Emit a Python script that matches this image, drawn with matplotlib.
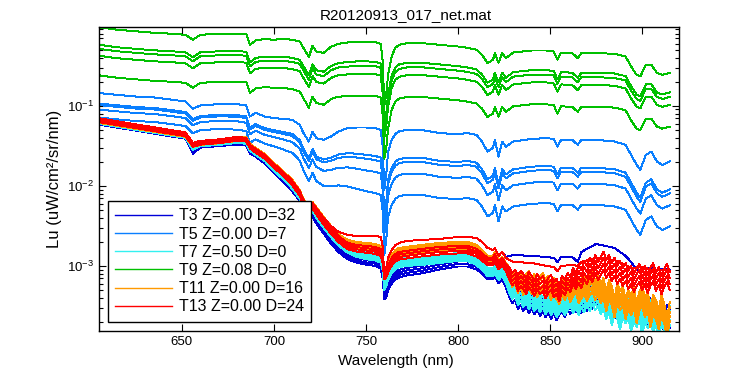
import numpy as np
import matplotlib
matplotlib.use("Agg")
import matplotlib.pyplot as plt
from matplotlib.ticker import LogLocator, LogFormatterSciNotation, NullFormatter

plt.rcParams['font.family'] = ['Liberation Sans', 'DejaVu Sans']

# wavelength grid (nm)
wl = [605, 615, 625, 635, 645, 652, 656, 660, 670, 680,
      685, 687, 690, 695, 700, 705, 710, 714, 716, 719,
      721, 723, 727, 731, 735, 740, 745, 750, 755, 758,
      759, 760, 761, 762, 764, 766, 768, 772, 780, 790,
      800, 805, 810, 813, 816, 819, 820, 822, 824, 826,
      830, 840, 848, 852, 854, 856, 862, 865, 867, 875,
      885, 891, 894, 897, 899, 902, 905, 908, 911, 915]
# finer grid for the noisy near-infrared end of the dim casts
wl_nir = [828, 829.5, 831, 832.5, 834, 835.5, 837, 838.5, 840, 841.5,
          843, 844.5, 846, 847.5, 849, 850.5, 852, 853.5, 855, 856.5,
          858, 859.5, 861, 862.5, 864, 865.5, 867, 868.5, 870, 871.5,
          873, 874.5, 876, 877.5, 879, 880.5, 882, 883.5, 885, 886.5,
          888, 889.5, 891, 892.5, 894, 895.5, 897, 898.5, 900, 901.5,
          903, 904.5, 906, 907.5, 909, 910.5, 912, 913.5, 915]

# log10(Lu) of the top curve of each group
t9_top = [-0.019, -0.050, -0.069, -0.088, -0.100, -0.113, -0.175, -0.113, -0.100, -0.100,
          -0.104, -0.238, -0.184, -0.166, -0.175, -0.163, -0.175, -0.196, -0.275, -0.388,
          -0.250, -0.321, -0.338, -0.263, -0.225, -0.209, -0.200, -0.200, -0.204, -0.225,
          -0.425, -0.988, -0.863, -0.613, -0.375, -0.275, -0.238, -0.219, -0.216, -0.238,
          -0.259, -0.275, -0.300, -0.363, -0.466, -0.425, -0.341, -0.463, -0.341, -0.404,
          -0.334, -0.309, -0.309, -0.321, -0.425, -0.334, -0.341, -0.404, -0.341, -0.341,
          -0.350, -0.384, -0.509, -0.613, -0.634, -0.488, -0.488, -0.588, -0.613, -0.588]
t5_top = [-0.841, -0.863, -0.884, -0.896, -0.925, -0.946, -1.038, -0.996, -0.979, -0.979,
          -0.996, -1.134, -1.088, -1.134, -1.154, -1.163, -1.175, -1.238, -1.338, -1.446,
          -1.321, -1.404, -1.425, -1.384, -1.321, -1.279, -1.271, -1.271, -1.279, -1.300,
          -1.488, -2.050, -1.863, -1.575, -1.425, -1.350, -1.319, -1.300, -1.300, -1.341,
          -1.354, -1.341, -1.363, -1.446, -1.571, -1.525, -1.425, -1.634, -1.446, -1.509,
          -1.446, -1.413, -1.404, -1.413, -1.509, -1.425, -1.425, -1.488, -1.425, -1.425,
          -1.446, -1.488, -1.613, -1.738, -1.800, -1.613, -1.571, -1.696, -1.738, -1.696]
t13_top = [-1.156, -1.194, -1.231, -1.269, -1.306, -1.331, -1.463, -1.438, -1.419, -1.388,
           -1.400, -1.488, -1.538, -1.613, -1.725, -1.825, -1.938, -2.063, -2.175, -2.288,
           -2.213, -2.288, -2.413, -2.525, -2.625, -2.713, -2.738, -2.750, -2.763, -2.788,
           -2.863, -3.075, -3.050, -2.988, -2.900, -2.850, -2.825, -2.813, -2.788, -2.763,
           -2.750, -2.750, -2.788, -2.838, -2.900, -2.900, -2.850, -2.950, -2.900, -2.975]
t13_nir = [-3.025, -3.088, -3.050, -3.125, -3.063, -3.100, -3.163, -3.075, -3.125, -3.188,
           -3.100, -3.163, -3.125, -3.213, -3.150, -3.113, -3.200, -3.163, -3.250, -3.125,
           -3.175, -3.088, -3.138, -3.025, -3.100, -2.988, -3.050, -2.938, -3.000, -2.900,
           -2.975, -2.863, -2.950, -2.888, -2.825, -2.925, -2.863, -2.963, -2.900, -3.000,
           -2.938, -3.025, -2.963, -3.063, -3.000, -3.100, -3.025, -2.975, -3.075, -3.000,
           -3.113, -3.025, -2.963, -3.088, -3.013, -3.125, -3.038, -2.975, -3.075]
t11_top = [-1.163, -1.200, -1.238, -1.275, -1.313, -1.338, -1.463, -1.438, -1.419, -1.388,
           -1.394, -1.475, -1.525, -1.600, -1.713, -1.813, -1.925, -2.050, -2.163, -2.263,
           -2.200, -2.263, -2.388, -2.500, -2.600, -2.675, -2.700, -2.713, -2.725, -2.750,
           -2.825, -3.050, -3.025, -2.950, -2.863, -2.800, -2.775, -2.763, -2.738, -2.713,
           -2.700, -2.700, -2.738, -2.800, -2.875, -2.875, -2.825, -2.925, -2.888, -2.963]
t11_nir = [-3.025, -3.100, -3.063, -3.138, -3.075, -3.163, -3.100, -3.063, -3.150, -3.100,
           -3.188, -3.125, -3.088, -3.175, -3.125, -3.225, -3.150, -3.213, -3.275, -3.163,
           -3.225, -3.150, -3.250, -3.175, -3.125, -3.225, -3.163, -3.100, -3.200, -3.125,
           -3.075, -3.188, -3.113, -3.225, -3.150, -3.325, -3.175, -3.250, -3.400, -3.225,
           -3.313, -3.250, -3.425, -3.300, -3.375, -3.275, -3.475, -3.325, -3.250, -3.400,
           -3.325, -3.525, -3.363, -3.425, -3.550, -3.375, -3.475, -3.650, -3.450]
t7_top = [-1.175, -1.213, -1.250, -1.288, -1.325, -1.350, -1.500, -1.456, -1.438, -1.413,
          -1.425, -1.513, -1.563, -1.638, -1.763, -1.863, -1.975, -2.100, -2.213, -2.325,
          -2.250, -2.325, -2.450, -2.563, -2.663, -2.750, -2.800, -2.825, -2.838, -2.863,
          -2.950, -3.200, -3.150, -3.075, -2.988, -2.938, -2.913, -2.900, -2.888, -2.863,
          -2.838, -2.838, -2.888, -2.950, -3.025, -3.025, -2.988, -3.075, -3.025, -3.113]
t7_nir = [-3.188, -3.250, -3.213, -3.288, -3.238, -3.313, -3.263, -3.338, -3.288, -3.363,
          -3.300, -3.375, -3.325, -3.400, -3.338, -3.413, -3.350, -3.438, -3.388, -3.338,
          -3.413, -3.350, -3.300, -3.388, -3.313, -3.375, -3.275, -3.338, -3.250, -3.325,
          -3.238, -3.313, -3.263, -3.363, -3.288, -3.425, -3.325, -3.500, -3.363, -3.425,
          -3.550, -3.388, -3.475, -3.400, -3.575, -3.450, -3.525, -3.413, -3.625, -3.463,
          -3.538, -3.425, -3.600, -3.488, -3.650, -3.475, -3.563, -3.675, -3.500]
t3_top = [-1.188, -1.225, -1.263, -1.300, -1.338, -1.363, -1.550, -1.475, -1.456, -1.438,
          -1.450, -1.550, -1.588, -1.675, -1.788, -1.900, -2.013, -2.125, -2.250, -2.388,
          -2.313, -2.400, -2.525, -2.650, -2.750, -2.838, -2.875, -2.900, -2.913, -2.938,
          -3.050, -3.325, -3.300, -3.213, -3.125, -3.075, -3.050, -3.025, -3.000, -2.950,
          -2.913, -2.913, -2.950, -3.000, -3.075, -3.075, -3.025, -3.125, -3.075, -3.175]
t3_nir = [-3.250, -3.313, -3.275, -3.350, -3.300, -3.375, -3.313, -3.400, -3.338, -3.413,
          -3.350, -3.438, -3.375, -3.450, -3.388, -3.475, -3.400, -3.488, -3.425, -3.375,
          -3.450, -3.363, -3.413, -3.338, -3.388, -3.300, -3.363, -3.275, -3.338, -3.250,
          -3.313, -3.225, -3.300, -3.238, -3.325, -3.263, -3.375, -3.288, -3.425, -3.313,
          -3.400, -3.338, -3.475, -3.375, -3.550, -3.413, -3.500, -3.388, -3.575, -3.425,
          -3.513, -3.400, -3.600, -3.450, -3.538, -3.425, -3.625, -3.488, -3.550]
# the two curves (T3 and T13) that stay above the rest past 725 nm
t3_high = [-1.163, -1.200, -1.238, -1.275, -1.313, -1.338, -1.488, -1.450, -1.425, -1.400,
           -1.413, -1.500, -1.550, -1.625, -1.738, -1.838, -1.950, -2.063, -2.175, -2.288,
           -2.213, -2.275, -2.400, -2.500, -2.575, -2.613, -2.625, -2.625, -2.625, -2.638,
           -2.750, -3.113, -3.025, -2.900, -2.800, -2.738, -2.713, -2.688, -2.675, -2.663,
           -2.638, -2.638, -2.650, -2.700, -2.775, -2.800, -2.775, -2.875, -2.825, -2.888,
           -2.863, -2.875, -2.888, -2.900, -2.950, -2.888, -2.888, -2.950, -2.825, -2.725,
           -2.775, -2.875, -2.950, -3.050, -3.050, -3.025, -3.025, -3.050, -3.038, -3.050]
t13_high = [-1.163, -1.200, -1.238, -1.275, -1.313, -1.338, -1.488, -1.450, -1.425, -1.400,
            -1.413, -1.500, -1.550, -1.625, -1.738, -1.838, -1.950, -2.063, -2.175, -2.288,
            -2.213, -2.275, -2.400, -2.500, -2.575, -2.613, -2.625, -2.625, -2.625, -2.638,
            -2.750, -3.113, -3.025, -2.900, -2.800, -2.738, -2.713, -2.688, -2.675, -2.663,
            -2.638, -2.638, -2.650, -2.700, -2.775, -2.800, -2.775, -2.875, -2.825, -2.900,
            -2.950, -2.963, -3.000, -3.013, -3.063, -3.000, -2.988, -3.000, -2.950, -2.900,
            -2.925, -2.988, -3.025, -3.025, -3.013, -3.025, -3.050, -3.050, -3.050, -3.063]

# how far (decades) each further curve of a group sits below the top one
t9_gap = [0.0, 0.219, 0.269, 0.356, 0.600]
t5_gap = [0.0, 0.131, 0.150, 0.206, 0.306]
low_gap5 = [0.0, 0.05, 0.10, 0.15, 0.20]
low_gap4 = [0.0, 0.062, 0.125, 0.188]
# spread of each group along the spectrum
t9_spread = [1.0] * 15 + [1.02, 1.03, 1.04, 1.05, 1.06, 1.06, 1.07, 1.08, 1.09, 1.10] + [1.12] * 45
t5_spread = [1.0] * 8 + [1.02, 1.04, 1.05, 1.07, 1.08, 1.11, 1.15, 1.25, 1.35, 1.45,
                         1.52, 1.62, 1.68, 1.75, 1.88, 2.02, 2.2, 2.38, 2.5, 2.6] + [2.65] * 42
low_spread = [0.25] * 15 + [0.27, 0.3, 0.32, 0.34, 0.35, 0.36, 0.37, 0.38, 0.39, 0.4,
                            0.42, 0.44, 0.45, 0.46, 0.48] + [0.5] * 20
low_spread_nir = [0.8] * 3 + [1.0] * 22 + [1.2] * 34

labels = ["T3 Z=0.00 D=32", "T5 Z=0.00 D=7", "T7 Z=0.50 D=0",
          "T9 Z=0.08 D=0", "T11 Z=0.00 D=16", "T13 Z=0.00 D=24"]
colors = ["#0000d8", "#0a7fff", "#33f0f0", "#00c000", "#ff9900", "#ff0000"]

wl_full = np.array(wl)
wl_low = np.array(wl[:50] + wl_nir)


def curves(x, top, gaps, spread):
    top = np.array(top)
    spread = np.array(spread)
    return [(x, 10 ** (top - g * spread)) for g in gaps]


groups = [
    [(wl_full, 10 ** np.array(t3_high))]
    + curves(wl_low, t3_top + t3_nir, low_gap4, low_spread + low_spread_nir),
    curves(wl_full, t5_top, t5_gap, t5_spread),
    curves(wl_low, t7_top + t7_nir, low_gap5, low_spread + low_spread_nir),
    curves(wl_full, t9_top, t9_gap, t9_spread),
    curves(wl_low, t11_top + t11_nir, low_gap5, low_spread + low_spread_nir),
    [(wl_full, 10 ** np.array(t13_high))]
    + curves(wl_low, t13_top + t13_nir, low_gap4, low_spread + low_spread_nir),
]

fig = plt.figure(figsize=(7.5, 3.75), dpi=100)
ax = fig.add_axes([0.132, 0.118, 0.7733, 0.81])
handles = []
for grp, col, lab in zip(groups, colors, labels):
    for i, (x, y) in enumerate(grp):
        h, = ax.plot(x, y, color=col, lw=0.7, antialiased=False)
        if i == 0:
            h.set_label(lab)
            handles.append(h)

ax.set_yscale("log")
ax.set_xlim(605, 920)
ax.set_ylim(1.55e-4, 0.965)
ax.set_xticks([650, 700, 750, 800, 850, 900])
ax.yaxis.set_major_locator(LogLocator(base=10, numticks=10))
ax.yaxis.set_major_formatter(LogFormatterSciNotation())
ax.yaxis.set_minor_locator(LogLocator(base=10, subs=np.arange(2, 10), numticks=20))
ax.yaxis.set_minor_formatter(NullFormatter())
ax.tick_params(which="both", direction="in", top=True, right=True, width=0.8, labelsize=9.5)
ax.tick_params(which="major", length=5)
ax.tick_params(which="minor", length=3)
for s in ax.spines.values():
    s.set_linewidth(1.0)

ax.set_title("R20120913_017_net.mat", fontsize=11, pad=6, x=0.529)
ax.set_xlabel("Wavelength (nm)", fontsize=11, labelpad=3)
ax.xaxis.set_label_coords(0.512, -0.075)
ax.set_ylabel("Lu (uW/cm²/sr/nm)", fontsize=12, labelpad=4)

leg = ax.legend(handles=handles, loc="lower left", bbox_to_anchor=(0.015, 0.03),
                borderaxespad=0, fancybox=False, edgecolor="black", framealpha=1,
                fontsize=11.5, handlelength=3.6, labelspacing=0.2, borderpad=0.45,
                handletextpad=0.4)
leg.get_frame().set_linewidth(1.0)
for ln in leg.get_lines():
    ln.set_linewidth(1.0)

fig.savefig("out.png", dpi=100)
